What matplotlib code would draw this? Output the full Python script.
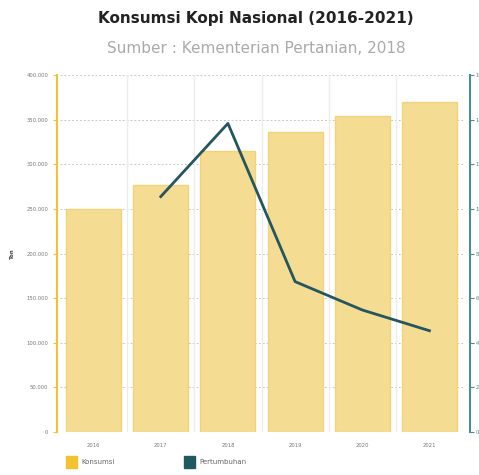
import matplotlib.pyplot as plt
import numpy as np

years = ["2016", "2017", "2018", "2019", "2020", "2021"]
konsumsi = [250000, 276500, 314800, 335900, 354300, 370000]
pertumbuhan_years = ["2017", "2018", "2019", "2020", "2021"]
pertumbuhan = [10.55, 13.83, 6.74, 5.47, 4.54]

YELLOW = "#f2c230"
BAR_FILL = "#f5dc93"
BAR_EDGE = "#f3d27c"
TEAL = "#23565f"
AXIS_TEAL = "#4d8b92"

fig = plt.figure(figsize=(4.79, 4.75), dpi=100)
ax = fig.add_axes([0.1253, 0.0905, 0.8413, 0.7516])

x = np.arange(len(years))
ax.bar(x, konsumsi, width=0.82, color=BAR_FILL, edgecolor=BAR_EDGE, linewidth=1, zorder=2)
ax.set_xlim(-0.5, len(years) - 0.5)
ax.set_ylim(0, 400000)
ax.set_yticks(np.arange(0, 400001, 50000))
ax.set_yticklabels(["0"] + [f"{v:,}".replace(",", ".") for v in range(50000, 400001, 50000)])
ax.set_xticks(x)
ax.set_xticklabels(years)

# gridlines
for v in range(0, 400001, 50000):
    ax.axhline(v, color="#c8c8c8", linestyle=(0, (2, 2)), linewidth=0.7, zorder=1)
for b in np.arange(0.5, len(years), 1):
    ax.axvline(b, color="#ececec", linewidth=1, zorder=1)

for s in ["top", "right", "bottom"]:
    ax.spines[s].set_visible(False)
ax.spines["left"].set_color(YELLOW)
ax.spines["left"].set_linewidth(1.5)
ax.spines["left"].set_position(("outward", 2))
ax.tick_params(axis="y", colors=YELLOW, labelcolor="#777777", labelsize=3.8, length=3, width=0.8)
ax.tick_params(axis="x", length=0, labelcolor="#777777", labelsize=3.8, pad=8)
ax.set_ylabel("Ton", fontsize=4, color="#444444", fontweight="bold")
ax.yaxis.set_label_coords(-0.112, 0.5)

ax2 = ax.twinx()
ax2.plot([years.index(y) for y in pertumbuhan_years], pertumbuhan, color=TEAL, linewidth=2, zorder=3)
ax2.set_ylim(0, 16)
ax2.set_yticks(np.arange(0, 17, 2))
for s in ["top", "left", "bottom"]:
    ax2.spines[s].set_visible(False)
ax2.spines["right"].set_color(AXIS_TEAL)
ax2.spines["right"].set_linewidth(1.5)
ax2.spines["right"].set_position(("outward", 5))
ax2.tick_params(axis="y", colors=AXIS_TEAL, labelcolor="#777777", labelsize=3.8, length=3, width=0.8,
                pad=1)

fig.text(0.535, 0.962, "Konsumsi Kopi Nasional (2016-2021)", ha="center", va="center",
         fontsize=11, fontweight="bold", color="#222222")
fig.text(0.535, 0.898, "Sumber : Kementerian Pertanian, 2018", ha="center", va="center",
         fontsize=11, color="#aaaaaa")

# legend
fig.patches.append(plt.Rectangle((66 / 479, 1 - 468 / 475), 11 / 479, 12 / 475,
                                 transform=fig.transFigure, color=YELLOW))
fig.text(81 / 479, 1 - 462 / 475, "Konsumsi", fontsize=5, color="#666666", va="center")
fig.patches.append(plt.Rectangle((184 / 479, 1 - 468 / 475), 11 / 479, 12 / 475,
                                 transform=fig.transFigure, color="#1f5a60"))
fig.text(199 / 479, 1 - 462 / 475, "Pertumbuhan", fontsize=5, color="#666666", va="center")

fig.savefig("out.png", dpi=100)
